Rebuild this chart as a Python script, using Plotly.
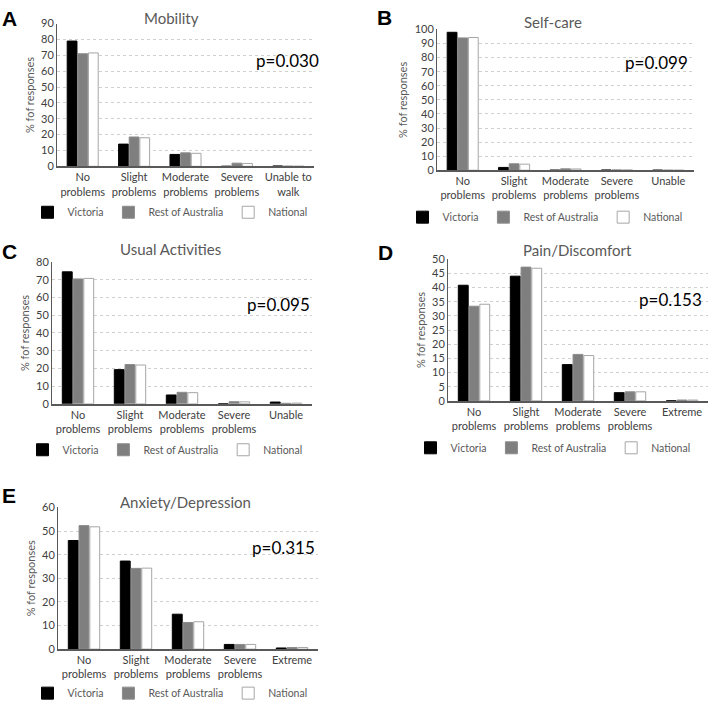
import plotly.graph_objects as go

# ---------------- data ----------------
series_names = ["Victoria", "Rest of Australia", "National"]

mobility_cats = ["No<br>problems", "Slight<br>problems", "Moderate<br>problems", "Severe<br>problems", "Unable to<br>walk"]
mobility_vic = [79.0, 14.0, 7.5, 0.0, 0.2]
mobility_roa = [71.0, 18.5, 8.5, 2.0, 0.1]
mobility_nat = [71.5, 18.0, 8.2, 1.8, 0.1]

selfcare_cats = ["No<br>problems", "Slight<br>problems", "Moderate<br>problems", "Severe<br>problems", "Unable"]
selfcare_vic = [98.0, 2.0, 0.0, 0.1, 0.0]
selfcare_roa = [94.0, 4.6, 1.0, 0.2, 0.0]
selfcare_nat = [94.3, 4.3, 0.9, 0.2, 0.0]

usual_cats = ["No<br>problems", "Slight<br>problems", "Moderate<br>problems", "Severe<br>problems", "Unable"]
usual_vic = [74.5, 19.3, 5.0, 0.0, 1.0]
usual_roa = [70.5, 22.2, 6.5, 1.2, 0.3]
usual_nat = [70.8, 21.9, 6.3, 1.1, 0.4]

pain_cats = ["No<br>problems", "Slight<br>problems", "Moderate<br>problems", "Severe<br>problems", "Extreme"]
pain_vic = [40.8, 44.0, 12.8, 2.9, 0.0]
pain_roa = [33.4, 47.2, 16.4, 3.2, 0.3]
pain_nat = [34.1, 46.8, 16.0, 3.2, 0.3]

anx_cats = ["No<br>problems", "Slight<br>problems", "Moderate<br>problems", "Severe<br>problems", "Extreme"]
anx_vic = [46.0, 37.3, 14.8, 2.0, 0.5]
anx_roa = [52.3, 34.2, 11.3, 2.0, 0.7]
anx_nat = [51.8, 34.3, 11.6, 2.0, 0.7]

titles = ["Mobility", "Self-care", "Usual Activities", "Pain/Discomfort", "Anxiety/Depression"]
letters = ["A", "B", "C", "D", "E"]
p_values = ["p=0.030", "p=0.099", "p=0.095", "p=0.153", "p=0.315"]
y_max = [90, 100, 80, 50, 60]
y_dtick = [10, 10, 10, 5, 10]
y_title = "% fof responses"

# ---------------- layout geometry (pixels) ----------------
W, H = 709, 708
# plot-area boxes: left, right, top, bottom
boxes = [(57, 314, 17, 163), (437, 694, 23, 167), (52, 312, 261, 406),
         (448, 708, 258, 403), (58, 318, 512, 657)]
title_pos = [(171, 11), (553, 15), (170, 248), (577, 249), (185, 506)]
letter_pos = [(0, 12), (375, 11), (0, 250), (376, 251), (0, 500)]
p_pos = [(287, 55), (656, 57), (278, 304), (670, 299), (283, 553)]
legend_pos = [(170, 210), (545, 215), (165, 453), (553, 451), (170, 702)]

fill_colors = ["#000000", "#7f7f7f", "#ffffff"]
line_colors = ["#000000", "#8c8c8c", "#a6a6a6"]

panels = [
    (mobility_cats, [mobility_vic, mobility_roa, mobility_nat]),
    (selfcare_cats, [selfcare_vic, selfcare_roa, selfcare_nat]),
    (usual_cats, [usual_vic, usual_roa, usual_nat]),
    (pain_cats, [pain_vic, pain_roa, pain_nat]),
    (anx_cats, [anx_vic, anx_roa, anx_nat]),
]

FONT = "Lato"
fig = go.Figure()
annotations = []
layout_upd = {}

def px(x):
    return x / W

def py(y):
    return 1 - y / H

for i, (cats, vals) in enumerate(panels):
    k = "" if i == 0 else str(i + 1)
    leg = "legend" if i == 0 else f"legend{i + 1}"
    for s, name in enumerate(series_names):
        fig.add_trace(go.Bar(
            x=cats, y=vals[s], name=name,
            marker=dict(color=fill_colors[s], line=dict(color=line_colors[s], width=1)),
            xaxis="x" + k, yaxis="y" + k, legend=leg,
            showlegend=True,
        ))
    l, r, t, b = boxes[i]
    layout_upd["xaxis" + k] = dict(
        domain=[px(l), px(r)], anchor="y" + k,
        showline=True, linecolor="#595959", linewidth=1.5,
        ticks="", showgrid=False,
        tickfont=dict(family=FONT, size=11, color="#404040"),
        fixedrange=True,
    )
    layout_upd["yaxis" + k] = dict(
        domain=[py(b), py(t)], anchor="x" + k,
        range=[0, y_max[i]], dtick=y_dtick[i], tick0=0,
        showline=True, linecolor="#595959", linewidth=1,
        showgrid=True, gridcolor="#d0d0d0", griddash="dot", gridwidth=1,
        zeroline=False, ticks="",
        tickfont=dict(family=FONT, size=11, color="#404040"),
        title=dict(text=y_title, font=dict(family=FONT, size=11, color="#595959"), standoff=4),
    )
    lx, ly = legend_pos[i]
    layout_upd[leg] = dict(
        orientation="h", x=px(lx), y=py(ly), xanchor="center", yanchor="middle",
        font=dict(family=FONT, size=10.5, color="#595959"),
        itemwidth=30, entrywidthmode="pixels", entrywidth=0,
        bgcolor="rgba(0,0,0,0)", traceorder="normal",
        itemclick=False, itemdoubleclick=False,
    )
    tx, ty = title_pos[i]
    annotations.append(dict(text=titles[i], x=px(tx), y=py(ty), xref="paper", yref="paper",
                            xanchor="center", yanchor="middle", showarrow=False,
                            font=dict(family=FONT, size=15, color="#595959")))
    lx2, ly2 = letter_pos[i]
    annotations.append(dict(text=f"<b>{letters[i]}</b>", x=px(lx2), y=py(ly2), xref="paper", yref="paper",
                            xanchor="left", yanchor="middle", showarrow=False,
                            font=dict(family="Liberation Sans", size=21, color="#000000")))
    pxx, pyy = p_pos[i]
    annotations.append(dict(text=p_values[i], x=px(pxx), y=py(pyy), xref="paper", yref="paper",
                            xanchor="center", yanchor="middle", showarrow=False,
                            font=dict(family=FONT, size=17, color="#000000")))

fig.update_layout(
    width=W, height=H,
    margin=dict(l=0, r=0, t=0, b=0),
    paper_bgcolor="white", plot_bgcolor="white",
    barmode="group", bargap=0.38, bargroupgap=0.08,
    annotations=annotations,
    showlegend=True,
    **layout_upd,
)

page_js = (
    "var de=document.documentElement, bd=document.body;"
    "[de, bd].forEach(function(e){e.style.margin='0';e.style.padding='0';e.style.overflow='hidden';});"
)

fig.write_html(
    "out.html",
    config={"displayModeBar": False},
    post_script=page_js,
)
